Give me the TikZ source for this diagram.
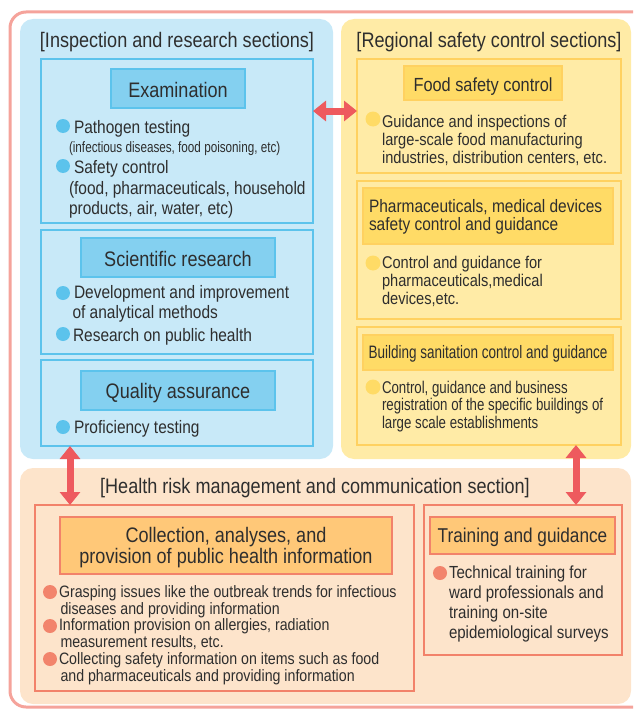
\documentclass[tikz,border=0pt]{standalone}
\usepackage{fontspec}
\setmainfont{Liberation Sans}[FakeStretch=0.86]
\newfontfamily\fB{Liberation Sans}[FakeStretch=0.78]
\newfontfamily\fC{Liberation Sans}[FakeStretch=0.75]
\usetikzlibrary{arrows.meta}
\newcommand{\mlines}[1]{\begin{tabular}[t]{@{}l@{}}#1\end{tabular}}
\newcommand{\mcent}[1]{\begin{tabular}[t]{@{}c@{}}#1\end{tabular}}
\definecolor{outerpink}{HTML}{F5A39B}
\definecolor{bluefill}{HTML}{C8E9F8}
\definecolor{blueline}{HTML}{5CC3EC}
\definecolor{bluehead}{HTML}{84D0F0}
\definecolor{yelfill}{HTML}{FFEBA6}
\definecolor{yelline}{HTML}{FFD160}
\definecolor{yelhead}{HTML}{FFDB66}
\definecolor{peachfill}{HTML}{FDE4CB}
\definecolor{peachline}{HTML}{F2826A}
\definecolor{peachhead}{HTML}{FFC878}
\definecolor{peachdot}{HTML}{F2846C}
\definecolor{arrred}{HTML}{EE5A5E}
\definecolor{txt}{HTML}{2E2E2E}
\tikzset{
  bx/.style={draw, inner sep=0pt, outer sep=0pt, line width=2.4pt},
  bluebox/.style={bx, draw=blueline},
  bluehd/.style={bx, draw=blueline, fill=bluehead, line width=2pt},
  yelbox/.style={bx, draw=yelline, fill=yelfill},
  yelhd/.style={bx, draw=yelline, fill=yelhead, line width=2pt},
  pchbox/.style={bx, draw=peachline, fill=peachfill},
  pchhd/.style={bx, draw=peachline, fill=peachhead, line width=2pt},
  tx/.style={text=txt, inner sep=0pt, outer sep=0pt},
  ttl/.style={tx, anchor=base, font=\fontsize{21}{24}\selectfont},
  hd/.style={tx, anchor=base, font=\fontsize{21}{25}\selectfont},
  bodyA/.style={tx, anchor=base west, font=\fontsize{18}{20.5}\selectfont},
  bodyY/.style={tx, anchor=base west, font=\fontsize{17}{18.3}\selectfont},
  bodyP/.style={tx, anchor=base west, font=\fontsize{16.5}{16.8}\selectfont},
  small/.style={tx, anchor=base west, font=\fB\fontsize{15}{16}\selectfont},
  dotB/.style={circle, fill=blueline, minimum size=14pt, inner sep=0pt},
  dotY/.style={circle, fill=yelhead, minimum size=15pt, inner sep=0pt},
  dotP/.style={circle, fill=peachdot, minimum size=14pt, inner sep=0pt},
  dbl/.style={draw=arrred, line width=7pt, {Triangle[width=20pt,length=13pt]}-{Triangle[width=20pt,length=13pt]}}
}
\begin{document}
\begin{tikzpicture}[x=1pt,y=-1pt]
\useasboundingbox (0,0) rectangle (633,709);
\clip (0,0) rectangle (633,709);
% outer frame
\draw[outerpink, line width=3pt, rounded corners=16pt] (10,12) rectangle (680,707);
% panels
\fill[bluefill, rounded corners=13pt] (20,19) rectangle (333,459);
\fill[yelfill, rounded corners=13pt] (341,19) rectangle (631,459);
\fill[peachfill, rounded corners=13pt] (20,468) rectangle (631,704);

% titles
\node[ttl] (t1) at (177,48) {[Inspection and research sections]};
\node[ttl] (t2) at (489,48) {[Regional safety control sections]};
\node[ttl] (t3) at (315,493) {[Health risk management and communication section]};

% ---- blue boxes
\node[bluebox, minimum width=272pt, minimum height=164pt] (exam) at (177,141) {};
\node[bluehd, minimum width=134pt, minimum height=39pt] (examH) at (178,88.5) {};
\node[hd] (examT) at (178,97) {Examination};
\node[dotB] (b1) at (63,126) {};
\node[bodyA] (e1) at (74,133) {Pathogen testing};
\node[small] (e2) at (69,152) {(infectious diseases, food poisoning, etc)};
\node[dotB] (b2) at (63,166) {};
\node[bodyA] (e3) at (74,173) {Safety control};
\node[bodyA] (e4) at (69,194) {\mlines{(food, pharmaceuticals, household\\products, air, water, etc)}};

\node[bluebox, minimum width=272pt, minimum height=124pt] (sci) at (177,292) {};
\node[bluehd, minimum width=194pt, minimum height=39pt] (sciH) at (178,257.5) {};
\node[hd] (sciT) at (178,266) {Scientific research};
\node[dotB] (b3) at (63,293) {};
\node[bodyA] (s1) at (74,298) {\mlines{Development and improvement\\\hspace*{-1.5pt}of analytical methods}};
\node[dotB] (b4) at (63,334) {};
\node[bodyA] (s2) at (73,341) {Research on public health};

\node[bluebox, minimum width=272pt, minimum height=86pt] (qa) at (177,403) {};
\node[bluehd, minimum width=194pt, minimum height=39pt] (qaH) at (178,390.5) {};
\node[hd] (qaT) at (178,398) {Quality assurance};
\node[dotB] (b5) at (63,427) {};
\node[bodyA] (q1) at (74,433) {Proficiency testing};

% ---- yellow boxes
\node[yelbox, minimum width=264pt, minimum height=114pt] (food) at (489,116) {};
\node[yelhd, minimum width=158pt, minimum height=34pt] (foodH) at (483,83) {};
\node[tx, anchor=base, font=\fontsize{19}{22}\selectfont] (foodT) at (483,92) {Food safety control};
\node[dotY] (y1) at (373,119) {};
\node[bodyY] (f1) at (382,127) {\mlines{Guidance and inspections of\\large-scale food manufacturing\\industries, distribution centers, etc.}};

\node[yelbox, minimum width=264pt, minimum height=138pt] (pharm) at (489,250) {};
\node[yelhd, minimum width=250pt, minimum height=56pt] (pharmH) at (488,216) {};
\node[tx, anchor=base west, font=\fontsize{18}{18.5}\selectfont] (pharmT) at (369,212) {\mlines{Pharmaceuticals, medical devices\\safety control and guidance}};
\node[dotY] (y2) at (373,263) {};
\node[bodyY] (p1) at (382,268) {\mlines{Control and guidance for\\pharmaceuticals,medical\\devices,etc.}};

\node[yelbox, minimum width=264pt, minimum height=118pt] (build) at (489,386) {};
\node[yelhd, minimum width=250pt, minimum height=35pt] (buildH) at (488,352.5) {};
\node[tx, anchor=base, font=\fC\fontsize{18}{20}\selectfont] (buildT) at (488,358) {Building sanitation control and guidance};
\node[dotY] (y3) at (373,387) {};
\node[bodyY, font=\fB\fontsize{17}{17.6}\selectfont] (u1) at (382,393) {\mlines{Control, guidance and business\\registration of the specific buildings of\\large scale establishments}};

% ---- peach boxes
\node[pchbox, minimum width=379pt, minimum height=186pt] (coll) at (224.5,598) {};
\node[pchhd, minimum width=332pt, minimum height=57pt] (collH) at (226,545.5) {};
\node[tx, anchor=base, font=\fontsize{21}{21}\selectfont] (collT) at (226,542) {\mcent{Collection, analyses, and\\provision of public health information}};
\node[dotP] (c1) at (50,592) {};
\node[bodyP] (g1) at (59,597) {\mlines{Grasping issues like the outbreak trends for infectious\\\hspace*{1.5pt}diseases and providing information}};
\node[dotP] (c2) at (50,626) {};
\node[bodyP] (g2) at (59,630) {\mlines{Information provision on allergies, radiation\\\hspace*{1.5pt}measurement results, etc.}};
\node[dotP] (c3) at (50,659) {};
\node[bodyP] (g3) at (59,664) {\mlines{Collecting safety information on items such as food\\\hspace*{1.5pt}and pharmaceuticals and providing information}};

\node[pchbox, minimum width=198pt, minimum height=150pt] (train) at (523,580) {};
\node[pchhd, minimum width=185pt, minimum height=37pt] (trainH) at (522.5,535.5) {};
\node[tx, anchor=base, font=\fontsize{20}{22}\selectfont] (trainT) at (522.5,542) {Training and guidance};
\node[dotP] (c4) at (440,573) {};
\node[tx, anchor=base west, font=\fontsize{17.5}{20}\selectfont] (tr1) at (449,578) {\mlines{Technical training for\\ward professionals and\\training on-site\\epidemiological surveys}};

% ---- arrows
\draw[dbl, transform canvas={yshift=5pt}] (exam.east |- food.west) -- (food.west);
\path (qa.south west) ++(29,0) coordinate (la);
\draw[dbl] (la) -- (la |- coll.north);
\path (build.south west) ++(219,0) coordinate (ra);
\draw[dbl] (ra) -- (ra |- train.north);
\end{tikzpicture}
\end{document}
